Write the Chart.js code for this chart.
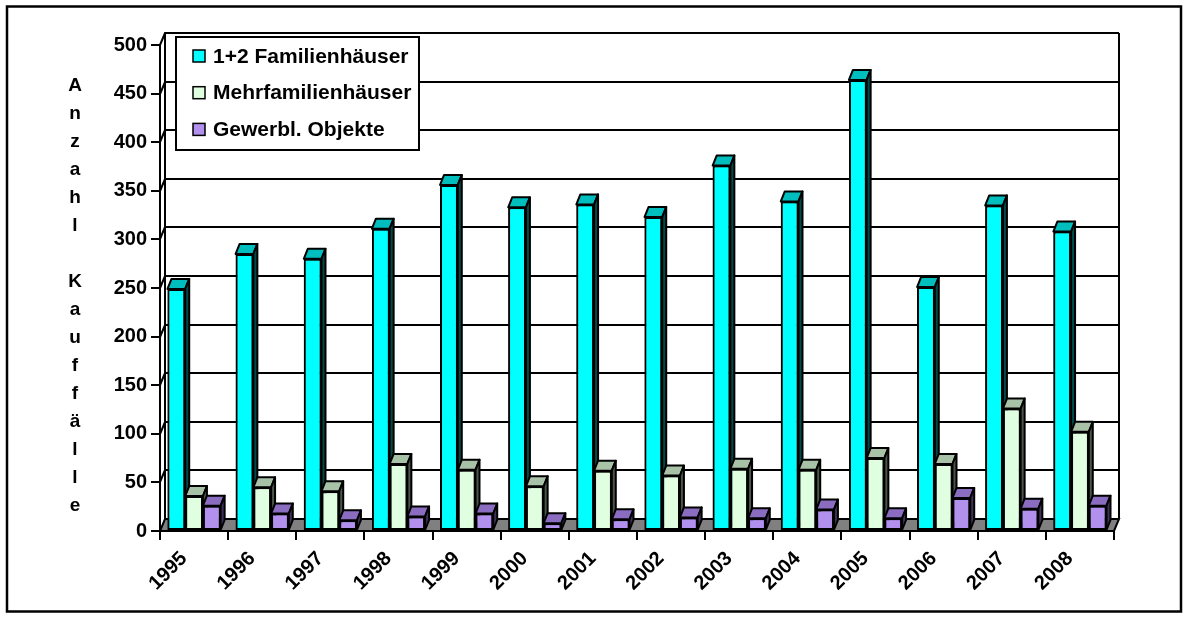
<!DOCTYPE html>
<html>
<head>
<meta charset="utf-8">
<script src="https://cdn.jsdelivr.net/npm/chart.js@4/dist/chart.umd.min.js"></script>
<style>
  html, body { margin: 0; padding: 0; background: #fff; }
  canvas { display: block; }
</style>
</head>
<body>
<canvas id="chart" width="1183" height="624"></canvas>
<script>
// Kauffälle je Jahr
const years = ['1995', '1996', '1997', '1998', '1999', '2000', '2001',
               '2002', '2003', '2004', '2005', '2006', '2007', '2008'];
const familienhaeuser     = [249, 285, 280, 311, 356, 333, 336, 323, 376, 339, 464, 251, 335, 308];
const mehrfamilienhaeuser = [36, 45, 41, 69, 63, 46, 62, 57, 64, 63, 75, 69, 126, 102];
const gewerbeObjekte      = [26, 18, 11, 15, 18, 8, 12, 14, 13, 22, 13, 34, 23, 26];
const seriesNames = ['1+2 Familienhäuser', 'Mehrfamilienhäuser', 'Gewerbl. Objekte'];
const yMin = 0, yMax = 500, yStep = 50;
const yTitle = 'Anzahl Kauffälle';

const FONT = "'Liberation Sans', Arial, sans-serif";
const frontColors = ['#00FFFF', '#E0FFE0', '#B190EE'];
const topColors   = ['#00BEBE', '#A8C2A8', '#8A6CC0'];
const sideColors  = ['#004A4A', '#4A564A', '#40305A'];

// depth of the walls/floor and of the columns
const DX = 5, DY = 12;
const BDX = 4, BDY = 10;

const depthPlugin = {
  id: 'depth3d',
  beforeDraw(chart) {
    const { ctx, chartArea: a } = chart;
    const y = chart.scales.y;
    ctx.save();
    ctx.fillStyle = '#fff';
    ctx.fillRect(0, 0, chart.width, chart.height);
    // outer frame
    ctx.strokeStyle = '#000';
    ctx.lineWidth = 2.5;
    ctx.strokeRect(7, 6.5, 1174, 605);
    // floor
    ctx.lineWidth = 2;
    ctx.lineJoin = 'miter';
    ctx.beginPath();
    ctx.moveTo(a.left, a.bottom);
    ctx.lineTo(a.right, a.bottom);
    ctx.lineTo(a.right + DX, a.bottom - DY);
    ctx.lineTo(a.left + DX, a.bottom - DY);
    ctx.closePath();
    ctx.fillStyle = '#808080';
    ctx.fill();
    ctx.stroke();
    // grid on the side and back walls
    for (let v = yMin + yStep; v <= yMax; v += yStep) {
      const py = Math.round(y.getPixelForValue(v));
      ctx.beginPath();
      ctx.moveTo(a.left, py);
      ctx.lineTo(a.left + DX, py - DY);
      ctx.lineTo(a.right + DX, py - DY);
      ctx.stroke();
    }
    // back wall edges
    ctx.beginPath();
    ctx.moveTo(a.left + DX, a.top - DY);
    ctx.lineTo(a.left + DX, a.bottom - DY);
    ctx.moveTo(a.right + DX, a.top - DY);
    ctx.lineTo(a.right + DX, a.bottom - DY);
    ctx.stroke();
    ctx.restore();
  },
  afterDatasetsDraw(chart) {
    const ctx = chart.ctx;
    ctx.save();
    ctx.lineWidth = 2;
    ctx.lineJoin = 'round';
    ctx.strokeStyle = '#000';
    const n = chart.data.labels.length;
    for (let i = 0; i < n; i++) {
      for (let d = 0; d < chart.data.datasets.length; d++) {
        const bar = chart.getDatasetMeta(d).data[i];
        if (!bar) continue;
        const { x, y, base, width } = bar.getProps(['x', 'y', 'base', 'width'], true);
        const l = x - width / 2, r = x + width / 2;
        bar.draw(ctx);
        // top face
        ctx.beginPath();
        ctx.moveTo(l, y);
        ctx.lineTo(l + BDX, y - BDY);
        ctx.lineTo(r + BDX, y - BDY);
        ctx.lineTo(r, y);
        ctx.closePath();
        ctx.fillStyle = topColors[d];
        ctx.fill();
        ctx.stroke();
        // side face
        ctx.beginPath();
        ctx.moveTo(r, y);
        ctx.lineTo(r + BDX, y - BDY);
        ctx.lineTo(r + BDX, base - BDY);
        ctx.lineTo(r, base);
        ctx.closePath();
        ctx.fillStyle = sideColors[d];
        ctx.fill();
        ctx.stroke();
      }
    }
    ctx.restore();
  },
  afterDraw(chart) {
    const ctx = chart.ctx;
    ctx.save();
    // legend box
    ctx.fillStyle = '#fff';
    ctx.fillRect(176, 37, 243, 113);
    ctx.strokeStyle = '#000';
    ctx.lineWidth = 2;
    ctx.strokeRect(176, 37, 243, 113);
    ctx.font = `bold 21px ${FONT}`;
    ctx.textBaseline = 'middle';
    ctx.textAlign = 'left';
    chart.data.datasets.forEach((ds, i) => {
      const cy = 56 + i * 36.7;
      ctx.fillStyle = ds.backgroundColor;
      ctx.fillRect(193, cy - 6, 12, 12);
      ctx.lineWidth = 1.5;
      ctx.strokeRect(193, cy - 6, 12, 12);
      ctx.fillStyle = '#000';
      ctx.fillText(ds.label, 213, cy + 1);
    });
    // stacked axis title
    ctx.font = `bold 19px ${FONT}`;
    ctx.textAlign = 'center';
    ctx.fillStyle = '#000';
    [...yTitle].forEach((ch, i) => {
      if (ch !== ' ') ctx.fillText(ch, 75, 86 + i * 28);
    });
    ctx.restore();
  }
};

const tickFont = { family: FONT, weight: 'bold', size: 20 };

new Chart(document.getElementById('chart'), {
  type: 'bar',
  data: {
    labels: years,
    datasets: [
      { label: seriesNames[0], data: familienhaeuser,     backgroundColor: frontColors[0] },
      { label: seriesNames[1], data: mehrfamilienhaeuser, backgroundColor: frontColors[1] },
      { label: seriesNames[2], data: gewerbeObjekte,      backgroundColor: frontColors[2] }
    ]
  },
  options: {
    responsive: false,
    animation: false,
    devicePixelRatio: 1,
    layout: { padding: { top: 45, right: 69, left: 0, bottom: 0 } },
    datasets: {
      bar: {
        categoryPercentage: 0.78,
        barPercentage: 1,
        borderColor: '#000',
        borderWidth: 2,
        borderSkipped: false
      }
    },
    plugins: {
      legend: { display: false },
      tooltip: { enabled: false }
    },
    scales: {
      x: {
        offset: true,
        grid: { offset: true, drawOnChartArea: false, drawTicks: true, tickLength: 9, color: '#000', lineWidth: 2 },
        border: { display: true, color: '#000', width: 2 },
        ticks: {
          autoSkip: false, minRotation: 45, maxRotation: 45,
          labelOffset: -10, padding: 7, color: '#000', font: tickFont
        },
        afterFit(s) { s.height = 93; }
      },
      y: {
        min: yMin, max: yMax,
        grid: { drawOnChartArea: false, drawTicks: true, tickLength: 9, color: '#000', lineWidth: 2 },
        border: { display: true, color: '#000', width: 2 },
        ticks: { stepSize: yStep, padding: 4, color: '#000', font: tickFont },
        afterFit(s) { s.width = 160; }
      }
    }
  },
  plugins: [depthPlugin]
});
</script>
</body>
</html>
